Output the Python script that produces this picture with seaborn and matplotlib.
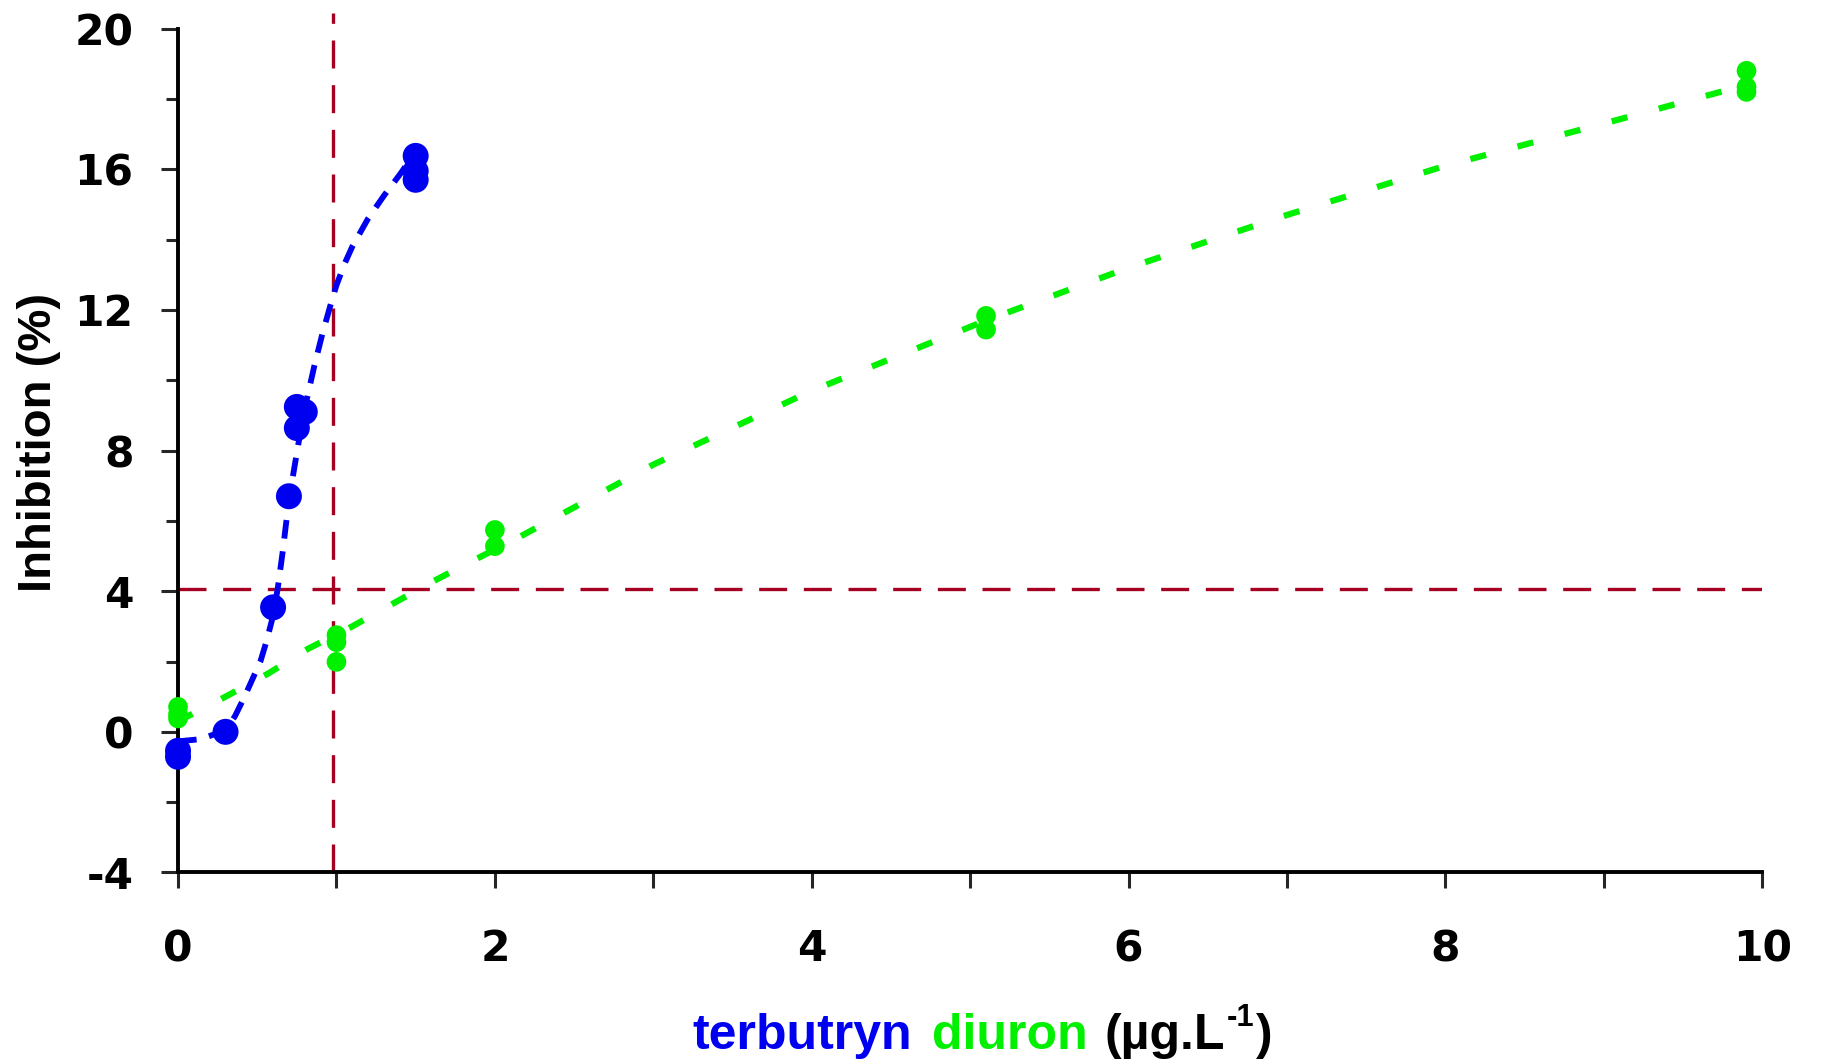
import numpy as np
import pandas as pd
import seaborn as sns
import matplotlib.pyplot as plt
from matplotlib.ticker import MultipleLocator

# terbutryn replicates (ug/L, % inhibition)
terb_x = [0, 0, 0.3, 0.6, 0.7, 0.75, 0.75, 0.8, 1.5, 1.5, 1.5]
terb_y = [-0.54, -0.71, 0.0, 3.54, 6.7, 8.64, 9.24, 9.1, 16.38, 15.95, 15.7]

# fitted curve for terbutryn
terb_fit_x = [0.0, 0.14, 0.30, 0.36, 0.42, 0.47, 0.52, 0.56, 0.60, 0.63, 0.66,
              0.70, 0.76, 0.81, 0.86, 0.91, 0.96, 1.0, 1.05, 1.1, 1.2, 1.3,
              1.4, 1.47]
terb_fit_y = [-0.27, -0.21, 0.04, 0.45, 1.0, 1.5, 2.0, 2.6, 3.3, 4.1, 5.1,
              6.6, 8.2, 9.4, 10.4, 11.3, 12.1, 12.7, 13.3, 13.8, 14.6, 15.25,
              15.85, 16.3]

# diuron replicates
diu_x = [0, 0, 0, 1, 1, 1, 2, 2, 5.1, 5.1, 9.9, 9.9, 9.9]
diu_y = [0.71, 0.38, 0.5, 2.75, 2.55, 1.99, 5.74, 5.28, 11.83, 11.44, 18.8, 18.34, 18.2]

# fitted curve for diuron
diu_fit_x = [0, 0.3, 0.57, 0.82, 1.1, 1.35, 1.61, 1.88, 2.15, 3, 4, 5.1, 6, 7, 8, 9, 9.9]
diu_fit_y = [0.3, 1.0, 1.66, 2.36, 3.0, 3.63, 4.28, 4.91, 5.53, 7.6, 9.7, 11.7,
             13.2, 14.7, 16.1, 17.3, 18.4]

# threshold lines
thr_x = 0.98
thr_y = 4.07

BLUE = "#0000F0"
GREEN = "#00F000"
RED = "#A50021"

sns.set_style("white")
plt.rcParams['font.family'] = ['Liberation Sans', 'DejaVu Sans']
plt.rcParams['axes.unicode_minus'] = False

fig = plt.figure(figsize=(18.24, 10.64), dpi=100)
ax = fig.add_axes([0.0976, 0.180, 0.8686, 0.808])

terb = pd.DataFrame({"x": terb_x, "y": terb_y})
diu = pd.DataFrame({"x": diu_x, "y": diu_y})
terb_fit = pd.DataFrame({"x": terb_fit_x, "y": terb_fit_y})
diu_fit = pd.DataFrame({"x": diu_fit_x, "y": diu_fit_y})

ax.axhline(thr_y, color=RED, lw=2.4, dashes=(8.4, 5), zorder=1)
ax.axvline(thr_x, color=RED, lw=2.4, dashes=(8.4, 5), zorder=1)

sns.lineplot(data=diu_fit, x="x", y="y", sort=False, ax=ax, color=GREEN,
             lw=4.5, linestyle=(0, (2.6, 5.2)), zorder=2)
sns.lineplot(data=terb_fit, x="x", y="y", sort=False, ax=ax, color=BLUE,
             lw=4.2, linestyle=(0, (3.2, 2.2)), zorder=3)
sns.scatterplot(data=diu, x="x", y="y", ax=ax, color=GREEN, s=200,
                edgecolor="none", zorder=4, clip_on=False)
sns.scatterplot(data=terb, x="x", y="y", ax=ax, color=BLUE, s=350,
                edgecolor="none", zorder=5, clip_on=False)

ax.set_xlim(0, 10)
ax.set_ylim(-4, 20.45)
ax.spines['top'].set_visible(False)
ax.spines['right'].set_visible(False)
ax.spines['left'].set_bounds(-4, 20)
for sp in ['left', 'bottom']:
    ax.spines[sp].set_linewidth(2.8)
    ax.spines[sp].set_color("black")

ax.xaxis.set_major_locator(MultipleLocator(2))
ax.xaxis.set_minor_locator(MultipleLocator(1))
ax.yaxis.set_major_locator(MultipleLocator(4))
ax.yaxis.set_minor_locator(MultipleLocator(2))
ax.tick_params(axis='x', which='both', direction='out', length=11.5, width=2.2,
               bottom=True, pad=28.5)
ax.tick_params(axis='y', which='major', direction='out', length=12, width=2.2,
               left=True, pad=20)
ax.tick_params(axis='y', which='minor', direction='out', length=8.6, width=2.2,
               left=True)
for lab in ax.get_xticklabels() + ax.get_yticklabels():
    lab.set_family('DejaVu Sans')
    lab.set_fontweight('bold')
    lab.set_fontsize(30.5)
    lab.set_color('black')

ax.set_xlabel("")
ax.set_ylabel("Inhibition (%)", fontsize=34, fontweight='bold', labelpad=10,
              family='Liberation Sans', color='black')

# coloured x label, pieces placed one after another
fig.canvas.draw()
rend = fig.canvas.get_renderer()
inv = fig.transFigure.inverted()
fs = 36
base_y = 0.014
gap = 0.011
parts = [("terbutryn", BLUE, fs, 0.0, gap),
         ("diuron", GREEN, fs, 0.0, 0.009),
         ("(\u00b5g.L", "black", fs, 0.0, 0.001),
         ("-1", "black", fs * 0.62, 0.022, 0.001),
         (")", "black", fs, 0.0, 0.0)]
x = 0.3795
for txt, col, size, dy, g in parts:
    t = fig.text(x, base_y + dy, txt, color=col, fontsize=size,
                 fontweight='bold', family='Liberation Sans',
                 ha='left', va='baseline')
    bb = t.get_window_extent(rend)
    x = inv.transform((bb.x1, 0))[0] + g

fig.savefig("out.png", dpi=100)
